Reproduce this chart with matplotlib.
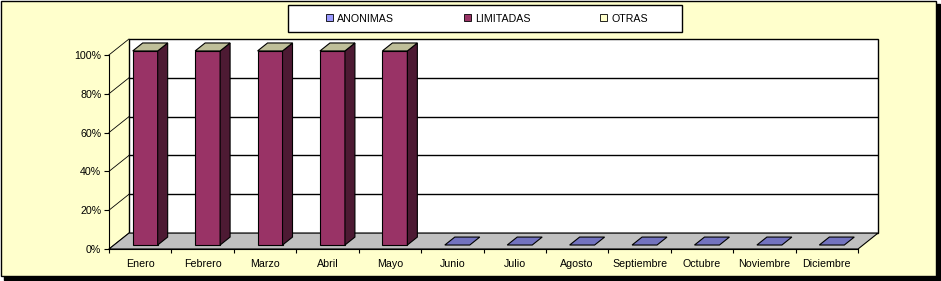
import matplotlib.pyplot as plt
import numpy as np
from matplotlib.patches import Polygon, Rectangle, Patch

# data: share of companies per type (percent of month total)
months = ["Enero", "Febrero", "Marzo", "Abril", "Mayo", "Junio", "Julio",
          "Agosto", "Septiembre", "Octubre", "Noviembre", "Diciembre"]
anonimas = [0, 0, 0, 0, 0, 0, 0, 0, 0, 0, 0, 0]
limitadas = [100, 100, 100, 100, 100, 0, 0, 0, 0, 0, 0, 0]
otras = [0, 0, 0, 0, 0, 0, 0, 0, 0, 0, 0, 0]
series_names = ["ANONIMAS", "LIMITADAS", "OTRAS"]
series_colors = ["#9999FF", "#993366", "#FFFFCC"]
y_ticks = [0, 20, 40, 60, 80, 100]
y_labels = ["0%", "20%", "40%", "60%", "80%", "100%"]

BG = "#FFFFCC"
FS = 7.7
W, H = 941, 281
plt.rcParams['font.family'] = ['Liberation Sans', 'DejaVu Sans']


def shade(c, f):
    r, g, b = plt.matplotlib.colors.to_rgb(c)
    return (r * f, g * f, b * f)


fig = plt.figure(figsize=(W / 100, H / 100), dpi=100)
fig.patch.set_facecolor("white")

# outer frame with shadow
fig.patches.append(Rectangle((4 / W, 1 - 280 / H), 936 / W, 276 / H,
                             transform=fig.transFigure, facecolor="black",
                             edgecolor="black", zorder=-2))
fig.patches.append(Rectangle((1 / W, 1 - 276 / H), 935 / W, 275 / H,
                             transform=fig.transFigure, facecolor=BG,
                             edgecolor="black", lw=1, zorder=-1))

# oblique depth offsets in data units
DX = 0.32
DY = 8.2
n = len(months)

ax = fig.add_axes([109 / W, (H - 249) / H, 769 / W, 210 / H])
ax.set_zorder(2)
ax.set_xlim(0, n + DX)
ax.set_ylim(0, 100 + DY)
ax.patch.set_visible(False)

# back wall + gridlines
ax.add_patch(Rectangle((DX, DY), n, 100, facecolor="white",
                       edgecolor="black", lw=1, zorder=1, clip_on=False))
for t in y_ticks[1:-1]:
    ax.plot([DX, n + DX], [t + DY, t + DY], color="black", lw=1, zorder=1.5)
# side wall diagonals
for t in y_ticks:
    ax.plot([0, DX], [t, t + DY], color="black", lw=0.6, zorder=1.5,
            clip_on=False)
# floor
ax.add_patch(Polygon([(0, 0), (n, 0), (n + DX, DY), (DX, DY)],
                     facecolor="#C0C0C0", edgecolor="black", lw=0.8, zorder=2,
                     clip_on=False))

# bars
d0, d1 = 0.25, 0.75
bw = 0.4
data = np.array([anonimas, limitadas, otras], dtype=float)
for i in range(n):
    x0 = i + 0.5 - bw / 2 + d0 * DX
    x1 = x0 + bw
    ox, oy = (d1 - d0) * DX, (d1 - d0) * DY
    total = data[:, i].sum()
    bottom = d0 * DY
    top_color = None
    for k in range(len(series_names)):
        h = data[k, i]
        if h > 0:
            ax.add_patch(Rectangle((x0, bottom), bw, h,
                                   facecolor=series_colors[k],
                                   edgecolor="black", lw=0.8, zorder=3))
            ax.add_patch(Polygon([(x1, bottom), (x1 + ox, bottom + oy),
                                  (x1 + ox, bottom + h + oy), (x1, bottom + h)],
                                 facecolor=shade(series_colors[k], 0.5),
                                 edgecolor="black", lw=0.8, zorder=3))
        bottom += h
        if total > 0 or k == 0:
            top_color = shade(series_colors[k], 0.75)
        if total == 0:
            break
    ax.add_patch(Polygon([(x0, bottom), (x1, bottom), (x1 + ox, bottom + oy),
                          (x0 + ox, bottom + oy)],
                         facecolor=top_color, edgecolor="black", lw=0.8,
                         zorder=3.5))

# axes
for s in ["top", "right"]:
    ax.spines[s].set_visible(False)
ax.spines["left"].set_bounds(0, 100)
ax.spines["bottom"].set_bounds(0, n)
ax.spines["left"].set_zorder(4)
ax.spines["bottom"].set_zorder(4)
ax.set_yticks(y_ticks)
ax.set_yticklabels(y_labels, fontsize=FS)
ax.tick_params(axis="y", length=3.5, width=0.8, pad=2)
ax.set_xticks(np.arange(n + 1))
ax.set_xticklabels([])
ax.tick_params(axis="x", which="major", length=3, width=0.8)
ax.set_xticks(np.arange(n) + 0.5, minor=True)
ax.set_xticklabels(months, minor=True, fontsize=FS)
ax.tick_params(axis="x", which="minor", length=0, pad=7)

# legend
fig.patches.append(Rectangle((288 / W, 1 - 32 / H), 394 / W, 27 / H,
                             transform=fig.transFigure, facecolor="white",
                             edgecolor="black", lw=1, zorder=1))
handles = [Patch(facecolor=c, edgecolor="black", lw=0.6) for c in series_colors]
fig.legend(handles, series_names, loc="center", ncol=3, frameon=False,
           bbox_to_anchor=(487 / W, 1 - 18.5 / H), fontsize=FS,
           handlelength=0.6, handleheight=0.6, handletextpad=0.4,
           columnspacing=6.55)

fig.savefig("out.png", dpi=100)
